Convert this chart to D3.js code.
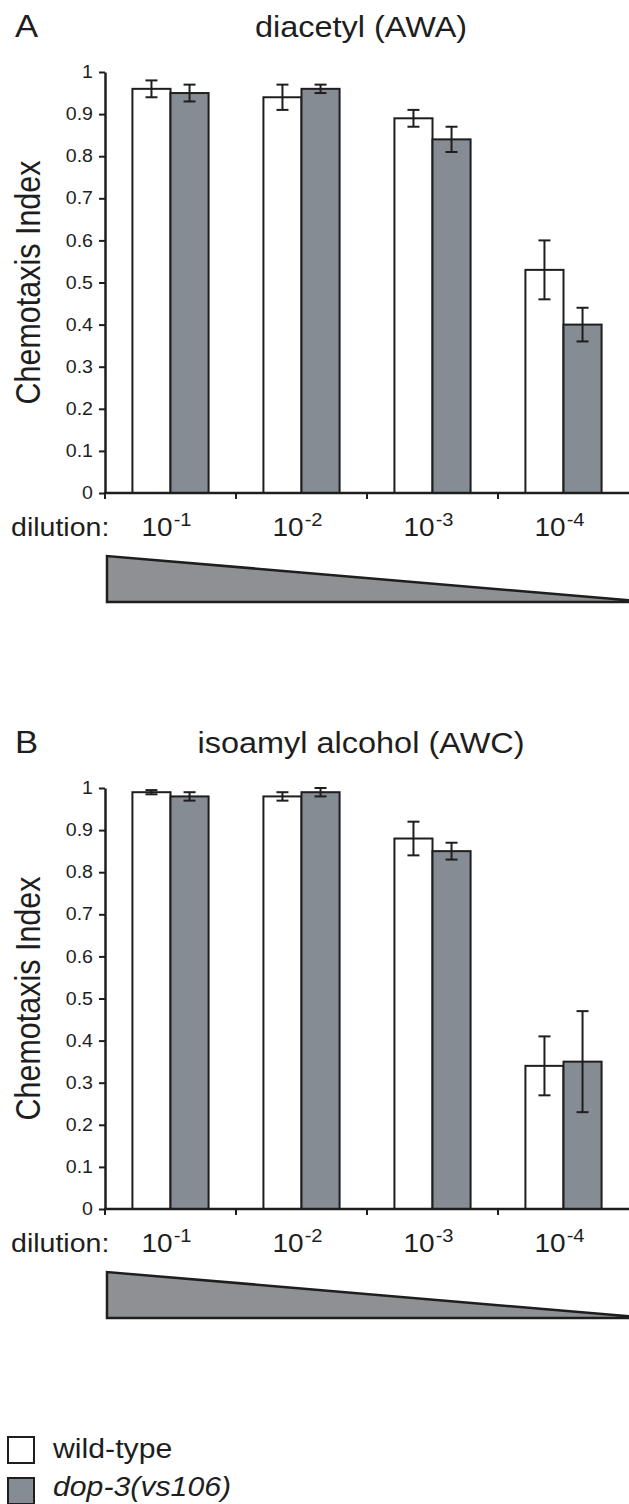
<!DOCTYPE html>
<html>
<head>
<meta charset="utf-8">
<script src="https://cdn.jsdelivr.net/npm/d3@7"></script>
<style>
  body { margin: 0; background: #fff; }
  svg { display: block; }
  text { font-family: "Liberation Sans", Arial, sans-serif; fill: #1e1e1e; }
</style>
</head>
<body>
<svg width="629" height="1504"></svg>
<script>
// dilution exponents (10^x)
var categories = ["-1", "-2", "-3", "-4"];
var series = ["wild-type", "dop-3(vs106)"];

// panel A: diacetyl (AWA)
var diacetylWT = [0.96, 0.94, 0.89, 0.53];
var diacetylWTErr = [0.02, 0.03, 0.02, 0.07];
var diacetylMut = [0.95, 0.96, 0.84, 0.40];
var diacetylMutErr = [0.02, 0.01, 0.03, 0.04];

// panel B: isoamyl alcohol (AWC)
var isoamylWT = [0.99, 0.98, 0.88, 0.34];
var isoamylWTErr = [0.005, 0.01, 0.04, 0.07];
var isoamylMut = [0.98, 0.99, 0.85, 0.35];
var isoamylMutErr = [0.01, 0.01, 0.02, 0.12];

var yTicks = [0, 0.1, 0.2, 0.3, 0.4, 0.5, 0.6, 0.7, 0.8, 0.9, 1];
var yTickLabels = ["0", "0.1", "0.2", "0.3", "0.4", "0.5", "0.6", "0.7", "0.8", "0.9", "1"];

var fills = ["#ffffff", "#868c93"];
var ink = "#1e1e1e";
var sx = 1.12; // the original figure is stretched a little sideways

var svg = d3.select("svg");

var x = d3.scaleBand().domain(categories).range([105, 629]);
var xs = d3.scaleBand().domain(series).range([0, x.bandwidth()]).paddingOuter(0.72);

function wideText(g, tx, ty, str, size, anchor) {
    return g.append("text")
        .attr("transform", "translate(" + tx + "," + ty + ") scale(" + sx + ",1)")
        .attr("text-anchor", anchor || "start")
        .style("font-size", size + "px")
        .text(str);
}

function panel(off, letter, title, wt, wtErr, mut, mutErr) {
    var g = svg.append("g").attr("transform", "translate(0," + off + ")");
    var y = d3.scaleLinear().domain([0, 1]).range([493, 72]);

    wideText(g, 15, 37, letter, 31);
    wideText(g, 361, 37, title, 29, "middle");

    // y label
    g.append("text")
        .attr("transform", "translate(40," + y(0.5) + ") scale(" + sx + ",1) rotate(-90)")
        .attr("text-anchor", "middle")
        .style("font-size", "30.5px")
        .text("Chemotaxis Index");

    var rows = categories.map(function(c, i) {
        return [
            {cat: c, s: series[0], v: wt[i], e: wtErr[i]},
            {cat: c, s: series[1], v: mut[i], e: mutErr[i]}
        ];
    });
    var flat = [].concat.apply([], rows);

    g.selectAll(".bar")
        .data(flat)
        .enter().append("rect")
        .attr("class", "bar")
        .attr("x", function(d) { return x(d.cat) + xs(d.s); })
        .attr("y", function(d) { return y(d.v); })
        .attr("width", xs.bandwidth())
        .attr("height", function(d) { return y(0) - y(d.v); })
        .style("fill", function(d) { return d.s == series[0] ? fills[0] : fills[1]; })
        .style("stroke", ink)
        .style("stroke-width", 2);

    var eb = g.selectAll(".err")
        .data(flat)
        .enter().append("g")
        .attr("class", "err")
        .attr("transform", function(d) { return "translate(" + (x(d.cat) + xs(d.s) + xs.bandwidth() / 2) + ",0)"; });
    eb.append("line")
        .attr("y1", function(d) { return y(d.v - d.e); })
        .attr("y2", function(d) { return y(d.v + d.e); })
        .style("stroke", ink).style("stroke-width", 2);
    eb.append("line")
        .attr("x1", -6).attr("x2", 6)
        .attr("y1", function(d) { return y(d.v + d.e); })
        .attr("y2", function(d) { return y(d.v + d.e); })
        .style("stroke", ink).style("stroke-width", 2);
    eb.append("line")
        .attr("x1", -6).attr("x2", 6)
        .attr("y1", function(d) { return y(d.v - d.e); })
        .attr("y2", function(d) { return y(d.v - d.e); })
        .style("stroke", ink).style("stroke-width", 2);

    // y axis
    var yAxis = d3.axisLeft(y)
        .tickValues(yTicks)
        .tickFormat(function(d, i) { return yTickLabels[i]; })
        .tickSize(6)
        .tickSizeOuter(0)
        .tickPadding(6);
    var ya = g.append("g").attr("transform", "translate(105,0)").call(yAxis);
    ya.select(".domain").style("stroke", ink).style("stroke-width", 2.5);
    ya.selectAll(".tick line").style("stroke", ink).style("stroke-width", 2);
    ya.selectAll(".tick text")
        .style("font-size", "17.5px")
        .style("font-family", "Liberation Sans, Arial, sans-serif")
        .style("fill", ink)
        .attr("transform", "scale(" + sx + ",1)")
        .attr("x", -12 / sx);

    // x axis
    g.append("line")
        .attr("x1", 104).attr("x2", 629)
        .attr("y1", y(0)).attr("y2", y(0))
        .style("stroke", ink).style("stroke-width", 2.5);
    g.selectAll(".xtick")
        .data(categories)
        .enter().append("line")
        .attr("class", "xtick")
        .attr("x1", function(d) { return x(d); })
        .attr("x2", function(d) { return x(d); })
        .attr("y1", y(0)).attr("y2", y(0) + 6)
        .style("stroke", ink).style("stroke-width", 2);

    wideText(g, 11, 536, "dilution:", 25.5);

    var lab = g.selectAll(".xlab")
        .data(categories)
        .enter().append("text")
        .attr("class", "xlab")
        .attr("transform", function(d) { return "translate(" + (x(d) + x.bandwidth() / 2 - 4) + ",536) scale(" + sx + ",1)"; })
        .attr("text-anchor", "middle")
        .style("font-size", "25px");
    lab.append("tspan").text("10");
    lab.append("tspan")
        .attr("dx", 1)
        .attr("dy", -10)
        .style("font-size", "18px")
        .text(function(d) { return d; });

    // concentration wedge
    var x0 = x.range()[0] + 2;
    g.append("polygon")
        .attr("points", [[x0, 556], [x0, 602], [650, 602]].map(function(p) { return p.join(","); }).join(" "))
        .style("fill", "#8e9093")
        .style("stroke", ink)
        .style("stroke-width", 2.5)
        .style("stroke-linejoin", "miter");
}

panel(0, "A", "diacetyl (AWA)", diacetylWT, diacetylWTErr, diacetylMut, diacetylMutErr);
panel(716, "B", "isoamyl alcohol (AWC)", isoamylWT, isoamylWTErr, isoamylMut, isoamylMutErr);

// legend
var leg = svg.append("g");
leg.selectAll("rect")
    .data(series)
    .enter().append("rect")
    .attr("x", 8)
    .attr("y", function(d, i) { return 1437 + i * 41; })
    .attr("width", 26)
    .attr("height", 26)
    .style("fill", function(d, i) { return fills[i]; })
    .style("stroke", ink)
    .style("stroke-width", 2);
leg.selectAll("text")
    .data(series)
    .enter().append("text")
    .attr("transform", function(d, i) { return "translate(53," + (1458 + i * 38) + ") scale(" + sx + ",1)"; })
    .style("font-size", "27px")
    .style("font-style", function(d, i) { return i == 1 ? "italic" : "normal"; })
    .text(function(d) { return d; });
</script>
</body>
</html>
